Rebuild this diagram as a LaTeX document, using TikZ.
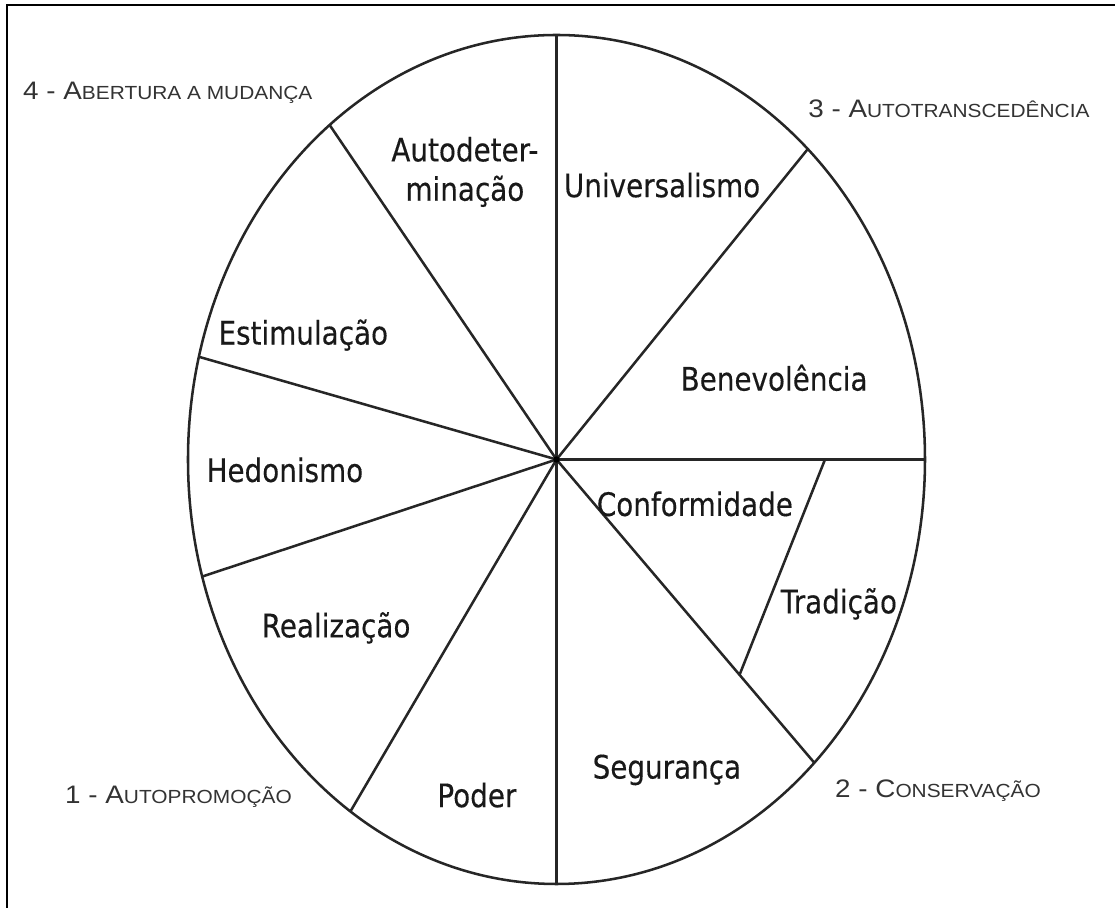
\documentclass[tikz,border=0pt]{standalone}
\usepackage{fontspec}
\setmainfont{DejaVu Sans}[FakeStretch=0.86, FakeBold=0.3]
\newfontfamily\cornerfont{Liberation Sans}[FakeStretch=1.1]
\usetikzlibrary{calc}

% lower part of the fake small caps in the corner titles
\newcommand{\lowcaps}[1]{{\fontsize{13.5}{15}\selectfont #1}}

\tikzset{
  value/.style={font=\fontsize{23}{28}\selectfont, text=black!90, align=center, inner sep=0pt},
  motive/.style={font=\cornerfont\fontsize{18}{20}\selectfont, text=black!80, anchor=base west, inner sep=0pt},
  rim/.style={line width=1.8pt, draw=black!85}
}

\begin{document}
\begin{tikzpicture}
  \useasboundingbox (-13.9125,-11.2125) rectangle (13.9625,11.4875);
  % frame, open on the right and at the bottom
  \draw[line width=2pt] (-13.7375,-11.4) -- (-13.7375,11.3625) -- (14.1,11.3625);

  \coordinate (c) at (0,0);
  \draw[rim] (c) ellipse [x radius=9.2125, y radius=10.6125];

  % spokes end on the rim
  \foreach \n/\a in {n/90, ne/47, e/0, se/-45.6, s/-90, sw/-124, wsw/-164, wnw/166, nw/128}
    \coordinate (p-\n) at ({9.2125*cos(\a)}, {10.6125*sin(\a)});
  \foreach \n in {n, ne, e, se, s, sw, wsw, wnw, nw}
    \draw[rim] (c) -- (p-\n);

  % split between Conformidade and Tradicao
  \coordinate (t-top) at (6.7125,0);
  \coordinate (t-bot) at ($(c)!0.71!(p-se)$);
  \draw[rim] (t-top) -- (t-bot);
  \fill[black] (c) circle [radius=0.08];

  \node[value] (autodet) at (-2.29,7.19) {Autodeter-\\minação};
  \node[value] (univ) at (2.64,6.86) {Universalismo};
  \node[value] (benev) at (5.44,2.04) {Benevolência};
  \node[value] (estim) at (-6.33,3.11) {Estimulação};
  \node[value] (hedon) at (-6.79,-0.26) {Hedonismo};
  \node[value] (realiz) at (-5.51,-4.21) {Realização};
  \node[value] (poder) at (-1.99,-8.39) {Poder};
  \node[value] (segur) at (2.76,-7.76) {Segurança};
  \node[value] (conf) at (3.46,-1.11) {Conformidade};
  \node[value] (trad) at (7.06,-3.61) {Tradição};

  \node[motive] (m4) at (-13.34,8.99) {4 - A\lowcaps{BERTURA A MUDANÇA}};
  \node[motive] (m3) at (6.29,8.54) {3 - A\lowcaps{UTOTRANSCEDÊNCIA}};
  \node[motive] (m1) at (-12.29,-8.59) {1 - A\lowcaps{UTOPROMOÇÃO}};
  \node[motive] (m2) at (6.96,-8.44) {2 - C\lowcaps{ONSERVAÇÃO}};
\end{tikzpicture}
\end{document}
